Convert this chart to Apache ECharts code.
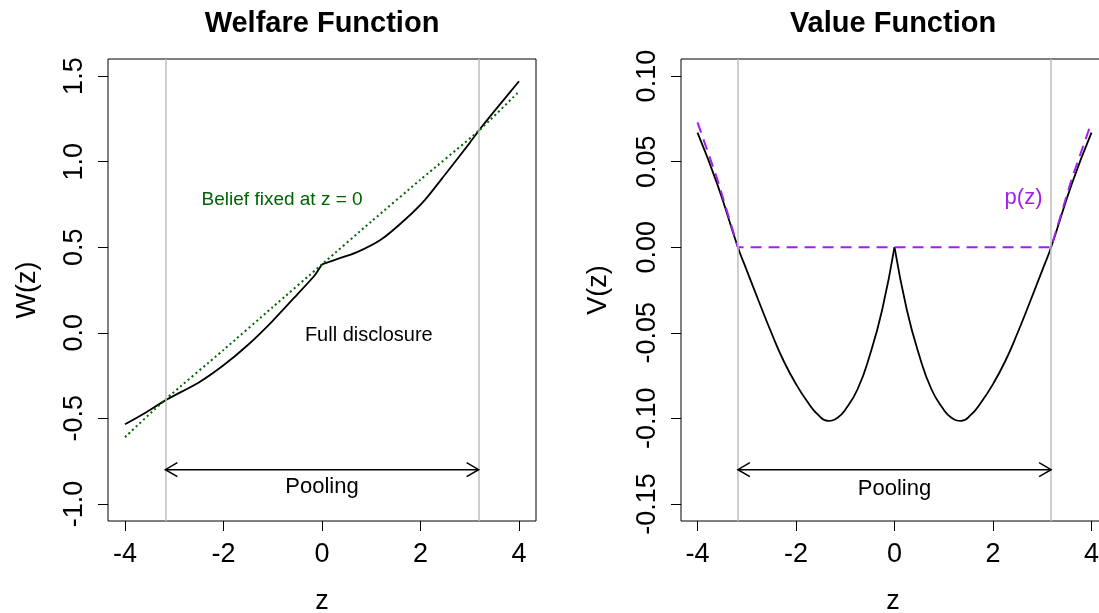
<!DOCTYPE html>
<html><head><meta charset="utf-8">
<script src="https://cdn.jsdelivr.net/npm/echarts@6/dist/echarts.min.js"></script>
<style>html,body{margin:0;padding:0;background:#fff}#c{width:1099px;height:613px}</style>
</head><body><div id="c"></div>
<script>
// ---- data ----
const xTicks = [-4, -2, 0, 2, 4];
const wTicks = [-1.0, -0.5, 0.0, 0.5, 1.0, 1.5];
const vTicks = [-0.15, -0.10, -0.05, 0.00, 0.05, 0.10];

// Welfare function: full disclosure (black)
const zW    = [-4, -3.6, -3.18, -2.5, -2, -1.5, -1, -0.5, -0.15, 0, 0.25, 0.7, 1.2, 1.7, 2.1, 2.5, 3, 3.18, 3.5, 4];
const wFull = [-0.535, -0.47, -0.395, -0.29, -0.19, -0.07, 0.07, 0.225, 0.335, 0.40, 0.425, 0.47, 0.545, 0.665, 0.78, 0.925, 1.11, 1.18, 1.295, 1.47];
// Welfare function: belief fixed at z = 0 (green dotted)
const zG      = [-4, -3.18, -2, -1, 0, 1, 2, 3.18, 4];
const wBelief = [-0.61, -0.39, -0.10, 0.15, 0.40, 0.65, 0.895, 1.18, 1.41];

// Value function (black)
const zV   = [-4, -3.6, -3.18, -3, -2.75, -2.5, -2.25, -2, -1.75, -1.55, -1.35, -1.15, -1, -0.75, -0.5, -0.25, 0,
              0.25, 0.5, 0.75, 1, 1.15, 1.35, 1.55, 1.75, 2, 2.25, 2.5, 2.75, 3, 3.18, 3.6, 4];
const vVal = [0.067, 0.037, 0, -0.0135, -0.032, -0.050, -0.0665, -0.080, -0.091, -0.098, -0.1015, -0.0995, -0.095, -0.083, -0.063, -0.0365, 0,
              -0.0365, -0.063, -0.083, -0.095, -0.0995, -0.1015, -0.098, -0.091, -0.080, -0.0665, -0.050, -0.032, -0.0135, 0, 0.037, 0.067];
// p(z) (purple dashed)
const zP   = [-4, -3.6, -3.18, 3.18, 3.6, 4];
const pVal = [0.073, 0.040, 0, 0, 0.040, 0.073];

// pooling boundaries and annotations
const poolBounds = [-3.18, 3.18];
const arrowW = -0.8, arrowV = -0.13;
const labelsW = [
  {z: -0.81, y: 0.78, text: 'Belief fixed at z = 0', color: '#006400', size: 19},
  {z: 0.95, y: -0.015, text: 'Full disclosure', color: '#000000', size: 20},
  {z: 0, y: -0.9, text: 'Pooling', color: '#000000', size: 22}
];
const labelsV = [
  {z: 2.62, y: 0.029, text: 'p(z)', color: '#A020F0', size: 22},
  {z: 0, y: -0.1415, text: 'Pooling', color: '#000000', size: 22}
];

const FF = '"Liberation Sans", Arial, sans-serif';
const pairs = (xs, ys) => xs.map((x, i) => [x, ys[i]]);
const half = (xs, ys, left) => pairs(xs, ys).filter(p => left ? p[0] <= 0 : p[0] >= 0);

function axisX(gi, mn, mx) {
  return {gridIndex: gi, type: 'value', min: mn, max: mx,
    splitLine: {show: false}, axisLine: {show: false, onZero: false},
    axisTick: {show: true, inside: false, length: 10, customValues: xTicks, lineStyle: {color: '#000', width: 1}},
    axisLabel: {customValues: xTicks, margin: 20, fontSize: 27, color: '#000', fontFamily: FF,
      formatter: v => String(v)}};
}
function axisY(gi, mn, mx, ticks, dec) {
  return {gridIndex: gi, type: 'value', min: mn, max: mx,
    splitLine: {show: false}, axisLine: {show: false, onZero: false},
    axisTick: {show: true, inside: false, length: 10, customValues: ticks, lineStyle: {color: '#000', width: 1}},
    axisLabel: {customValues: ticks, rotate: 90, margin: 20, fontSize: 27, color: '#000', fontFamily: FF,
      formatter: v => Number(v).toFixed(dec)}};
}
function vlines() {
  return {silent: true, symbol: ['none', 'none'], label: {show: false},
    lineStyle: {color: '#BEBEBE', width: 1.5, type: 'solid'},
    data: poolBounds.map(b => ({xAxis: b}))};
}
function arrowSeries(gi, y) {
  return {type: 'custom', xAxisIndex: gi, yAxisIndex: gi, silent: true, z: 5,
    data: [[poolBounds[0], poolBounds[1], y]], encode: {x: [0, 1], y: 2},
    renderItem: (params, api) => {
      const a = api.coord([api.value(0), api.value(2)]);
      const b = api.coord([api.value(1), api.value(2)]);
      const st = {stroke: '#000', lineWidth: 1.5, fill: null};
      return {type: 'group', children: [
        {type: 'line', shape: {x1: a[0], y1: a[1], x2: b[0], y2: b[1]}, style: st},
        {type: 'polyline', shape: {points: [[a[0] + 12, a[1] - 7], a, [a[0] + 12, a[1] + 7]]}, style: st},
        {type: 'polyline', shape: {points: [[b[0] - 12, b[1] - 7], b, [b[0] - 12, b[1] + 7]]}, style: st}
      ]};
    }};
}
function textSeries(gi, labels) {
  return {type: 'custom', xAxisIndex: gi, yAxisIndex: gi, silent: true, z: 6,
    data: labels.map(l => [l.z, l.y]),
    renderItem: (params, api) => {
      const p = api.coord([api.value(0), api.value(1)]);
      const l = labels[params.dataIndex];
      return {type: 'text', x: p[0], y: p[1], style: {text: l.text, fill: l.color,
        font: l.size + 'px ' + FF, textAlign: 'center', textVerticalAlign: 'middle'}};
    }};
}

const chart = echarts.init(document.getElementById('c'), null, {renderer: 'canvas'});
chart.setOption({
  animation: false,
  backgroundColor: '#fff',
  grid: [
    {left: 108, top: 59, width: 428, height: 462, show: true, borderColor: '#000', borderWidth: 1, backgroundColor: 'transparent', outerBoundsMode: 'none', containLabel: false},
    {left: 681, top: 59, width: 427, height: 462, show: true, borderColor: '#000', borderWidth: 1, backgroundColor: 'transparent', outerBoundsMode: 'none', containLabel: false}
  ],
  xAxis: [axisX(0, -4.345, 4.345), axisX(1, -4.335, 4.335)],
  yAxis: [axisY(0, -1.1, 1.6, wTicks, 1), axisY(1, -0.16, 0.11, vTicks, 2)],
  series: [
    {type: 'line', xAxisIndex: 0, yAxisIndex: 0, data: [], markLine: vlines(), silent: true},
    {type: 'line', xAxisIndex: 0, yAxisIndex: 0, data: half(zW, wFull, true), smooth: 0.2, showSymbol: false, lineStyle: {color: '#000', width: 1.8}, z: 3},
    {type: 'line', xAxisIndex: 0, yAxisIndex: 0, data: half(zW, wFull, false), smooth: 0.2, showSymbol: false, lineStyle: {color: '#000', width: 1.8}, z: 3},
    {type: 'line', xAxisIndex: 0, yAxisIndex: 0, data: pairs(zG, wBelief), smooth: 0.2, showSymbol: false, lineStyle: {color: '#006400', width: 2, type: [2, 3]}, z: 4},
    arrowSeries(0, arrowW),
    textSeries(0, labelsW),

    {type: 'line', xAxisIndex: 1, yAxisIndex: 1, data: [], markLine: vlines(), silent: true},
    {type: 'line', xAxisIndex: 1, yAxisIndex: 1, data: half(zV, vVal, true), smooth: 0.5, showSymbol: false, lineStyle: {color: '#000', width: 1.8}, z: 3},
    {type: 'line', xAxisIndex: 1, yAxisIndex: 1, data: half(zV, vVal, false), smooth: 0.5, showSymbol: false, lineStyle: {color: '#000', width: 1.8}, z: 3},
    {type: 'line', xAxisIndex: 1, yAxisIndex: 1, data: pairs(zP, pVal), showSymbol: false, lineStyle: {color: '#A020F0', width: 2, type: [11, 7]}, z: 4},
    arrowSeries(1, arrowV),
    textSeries(1, labelsV)
  ],
  graphic: [
    {type: 'text', x: 322, y: 24, style: {text: 'Welfare Function', font: 'bold 29px ' + FF, fill: '#000', textAlign: 'center', textVerticalAlign: 'middle'}},
    {type: 'text', x: 893, y: 24, style: {text: 'Value Function', font: 'bold 29px ' + FF, fill: '#000', textAlign: 'center', textVerticalAlign: 'middle'}},
    {type: 'text', x: 322, y: 602, style: {text: 'z', font: '27px ' + FF, fill: '#000', textAlign: 'center', textVerticalAlign: 'middle'}},
    {type: 'text', x: 893, y: 602, style: {text: 'z', font: '27px ' + FF, fill: '#000', textAlign: 'center', textVerticalAlign: 'middle'}},
    {type: 'text', x: 28, y: 290, rotation: Math.PI / 2, style: {text: 'W(z)', font: '27px ' + FF, fill: '#000', textAlign: 'center', textVerticalAlign: 'middle'}},
    {type: 'text', x: 599, y: 290, rotation: Math.PI / 2, style: {text: 'V(z)', font: '27px ' + FF, fill: '#000', textAlign: 'center', textVerticalAlign: 'middle'}}
  ]
});
</script></body></html>
